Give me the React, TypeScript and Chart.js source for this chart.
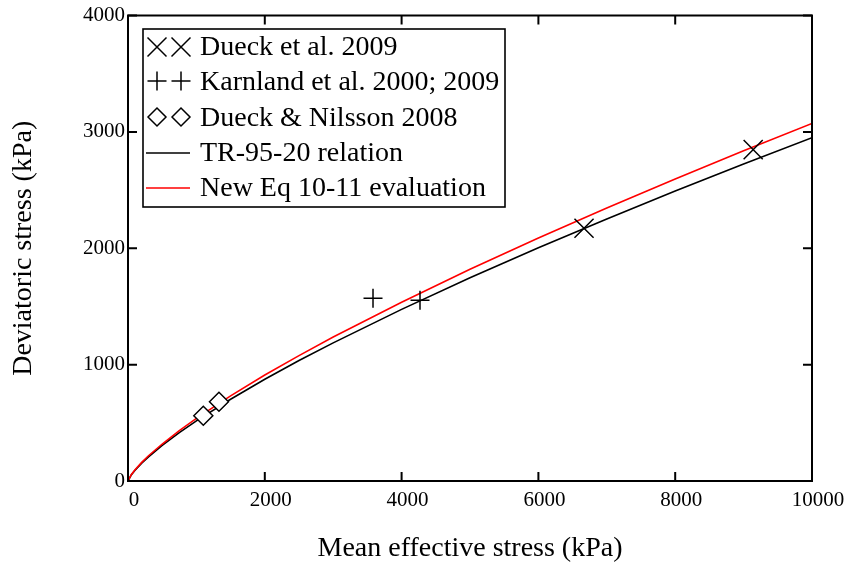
import React, { useEffect, useRef } from "react";
import { Chart, registerables } from "chart.js";

Chart.register(...registerables);

// ---- data ----
const meanStress = [0, 50, 100, 200, 300, 500, 750, 1000, 1500, 2000, 2500, 3000, 4000, 5000, 6000, 7000, 8000, 9000, 10000];
const tr9520 = [0, 54, 91, 153, 208, 306, 416, 517, 703, 874, 1035, 1187, 1475, 1747, 2005, 2252, 2492, 2724, 2950];
const newEq = [0, 56, 95, 160, 217, 318, 433, 538, 732, 911, 1078, 1237, 1537, 1820, 2089, 2346, 2596, 2838, 3073];

const dueckX = [6667, 9140];
const dueckY = [2172, 2848];
const karnlandX = [3582, 4269];
const karnlandY = [1571, 1554];
const nilssonX = [1101, 1330];
const nilssonY = [561, 681];

const xTicks = [0, 2000, 4000, 6000, 8000, 10000];
const yTicks = [0, 1000, 2000, 3000, 4000];

const legendLabels = [
  "Dueck et al. 2009",
  "Karnland et al. 2000; 2009",
  "Dueck & Nilsson 2008",
  "TR-95-20 relation",
  "New Eq 10-11 evaluation",
];

const xTitle = "Mean effective stress (kPa)";
const yTitle = "Deviatoric stress (kPa)";

const FONT = "'Liberation Serif', 'Times New Roman', serif";

const pts = (xs: number[], ys: number[]) => xs.map((x, i) => ({ x, y: ys[i] }));

function drawCrossRot(ctx: CanvasRenderingContext2D, x: number, y: number, h: number) {
  ctx.beginPath();
  ctx.moveTo(x - h, y - h);
  ctx.lineTo(x + h, y + h);
  ctx.moveTo(x - h, y + h);
  ctx.lineTo(x + h, y - h);
  ctx.stroke();
}
function drawCross(ctx: CanvasRenderingContext2D, x: number, y: number, h: number) {
  ctx.beginPath();
  ctx.moveTo(x - h, y);
  ctx.lineTo(x + h, y);
  ctx.moveTo(x, y - h);
  ctx.lineTo(x, y + h);
  ctx.stroke();
}
function drawDiamond(ctx: CanvasRenderingContext2D, x: number, y: number, h: number) {
  ctx.beginPath();
  ctx.moveTo(x - h, y);
  ctx.lineTo(x, y - h);
  ctx.lineTo(x + h, y);
  ctx.lineTo(x, y + h);
  ctx.closePath();
  ctx.fillStyle = "#fff";
  ctx.fill();
  ctx.stroke();
}

const framePlugin = {
  id: "frameAndLegend",
  afterDatasetsDraw(chart: any) {
    const { ctx, chartArea, scales } = chart;
    const { left, right, top, bottom } = chartArea;
    const xs = scales.x;
    const ys = scales.y;
    ctx.save();
    ctx.strokeStyle = "#000";
    ctx.lineWidth = 2;
    ctx.beginPath();
    ctx.rect(left, top, right - left, bottom - top);
    ctx.stroke();
    const L = 9;
    ctx.beginPath();
    xTicks.forEach((v) => {
      const px = xs.getPixelForValue(v);
      ctx.moveTo(px, bottom);
      ctx.lineTo(px, bottom - L);
      ctx.moveTo(px, top);
      ctx.lineTo(px, top + L);
    });
    yTicks.forEach((v) => {
      const py = ys.getPixelForValue(v);
      ctx.moveTo(left, py);
      ctx.lineTo(left + L, py);
      ctx.moveTo(right, py);
      ctx.lineTo(right - L, py);
    });
    ctx.stroke();

    // legend box
    const bx = 143, by = 29, bw = 362, bh = 178;
    ctx.fillStyle = "#fff";
    ctx.fillRect(bx, by, bw, bh);
    ctx.lineWidth = 1.6;
    ctx.strokeRect(bx, by, bw, bh);

    const s1 = 157, s2 = 181;
    const rowY = [47, 81, 117, 153, 188];
    ctx.lineWidth = 1.5;
    ctx.strokeStyle = "#000";
    drawCrossRot(ctx, s1, rowY[0], 9.5);
    drawCrossRot(ctx, s2, rowY[0], 9.5);
    drawCross(ctx, s1, rowY[1], 9.5);
    drawCross(ctx, s2, rowY[1], 9.5);
    drawDiamond(ctx, s1, rowY[2], 9);
    drawDiamond(ctx, s2, rowY[2], 9);
    ctx.beginPath();
    ctx.moveTo(146, rowY[3]);
    ctx.lineTo(190, rowY[3]);
    ctx.stroke();
    ctx.strokeStyle = "#ff0000";
    ctx.beginPath();
    ctx.moveTo(146, rowY[4]);
    ctx.lineTo(190, rowY[4]);
    ctx.stroke();

    ctx.fillStyle = "#000";
    ctx.font = `28px ${FONT}`;
    ctx.textAlign = "left";
    ctx.textBaseline = "alphabetic";
    const baselines = [55, 90, 126, 161, 196];
    legendLabels.forEach((t, i) => ctx.fillText(t, 200, baselines[i]));
    ctx.restore();
  },
};

export default function App() {
  const ref = useRef<HTMLCanvasElement | null>(null);
  useEffect(() => {
    if (!ref.current) return;
    const chart = new Chart(ref.current, {
      type: "scatter",
      data: {
        datasets: [
          {
            label: legendLabels[0],
            data: pts(dueckX, dueckY),
            pointStyle: "crossRot",
            pointRadius: 13.5,
            pointBorderColor: "#000",
            pointBorderWidth: 1.5,
            showLine: false,
          },
          {
            label: legendLabels[1],
            data: pts(karnlandX, karnlandY),
            pointStyle: "cross",
            pointRadius: 9.5,
            pointBorderColor: "#000",
            pointBorderWidth: 1.5,
            showLine: false,
          },
          {
            label: legendLabels[2],
            data: pts(nilssonX, nilssonY),
            pointStyle: "rectRot",
            pointRadius: 9.5,
            pointBorderColor: "#000",
            pointBackgroundColor: "#fff",
            pointBorderWidth: 1.5,
            showLine: false,
          },
          {
            label: legendLabels[4],
            data: pts(meanStress, newEq),
            showLine: true,
            borderColor: "#ff0000",
            borderWidth: 1.6,
            pointRadius: 0,
            tension: 0,
          },
          {
            label: legendLabels[3],
            data: pts(meanStress, tr9520),
            showLine: true,
            borderColor: "#000",
            borderWidth: 1.6,
            pointRadius: 0,
            tension: 0,
          },
        ],
      },
      options: {
        animation: false,
        responsive: false,
        devicePixelRatio: 1,
        layout: { padding: { top: 15, right: 38, left: 0, bottom: 0 } },
        plugins: {
          legend: { display: false },
          tooltip: { enabled: false },
        },
        scales: {
          x: {
            type: "linear",
            min: 0,
            max: 10000,
            afterFit: (s: any) => {
              s.height = 89;
            },
            afterBuildTicks: (s: any) => {
              s.ticks = xTicks.map((v) => ({ value: v }));
            },
            grid: { display: false, drawTicks: false },
            border: { display: false },
            ticks: {
              padding: 7,
              labelOffset: 6,
              color: "#000",
              font: { family: FONT, size: 21 },
              maxRotation: 0,
              callback: (v: any) => String(v),
            },
            title: {
              display: true,
              text: xTitle,
              color: "#000",
              font: { family: FONT, size: 28 },
              padding: { top: 0, bottom: 5 },
            },
          },
          y: {
            type: "linear",
            min: 0,
            max: 4000,
            afterFit: (s: any) => {
              s.width = 128;
            },
            afterBuildTicks: (s: any) => {
              s.ticks = yTicks.map((v) => ({ value: v }));
            },
            grid: { display: false, drawTicks: false },
            border: { display: false },
            ticks: {
              padding: 3,
              color: "#000",
              font: { family: FONT, size: 21 },
              callback: (v: any) => String(v),
            },
            title: {
              display: true,
              text: yTitle,
              color: "#000",
              font: { family: FONT, size: 28 },
              padding: { top: 7, bottom: 0 },
            },
          },
        },
      },
      plugins: [framePlugin],
    });
    return () => chart.destroy();
  }, []);
  return (
    <div style={{ position: "absolute", left: 0, top: 0, width: 850, height: 570, background: "#fff" }}>
      <canvas ref={ref} width={850} height={570} style={{ display: "block" }} />
    </div>
  );
}
